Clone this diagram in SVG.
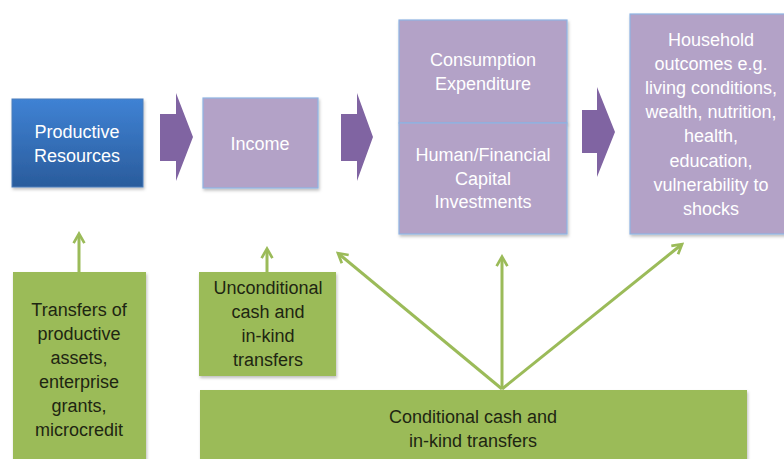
<svg xmlns="http://www.w3.org/2000/svg" width="784" height="459" viewBox="0 0 784 459">
<defs>
<linearGradient id="blueGrad" x1="0" y1="0" x2="0" y2="1">
<stop offset="0" stop-color="#3f82d4"/>
<stop offset="1" stop-color="#2a5c9c"/>
</linearGradient>
<filter id="sh" x="-10%" y="-10%" width="130%" height="130%">
<feDropShadow dx="1" dy="2" stdDeviation="1.5" flood-color="#000" flood-opacity="0.25"/>
</filter>
<marker id="ah" viewBox="0 0 10 10" refX="7" refY="5" markerWidth="4.5" markerHeight="4.5" orient="auto-start-reverse">
<path d="M1,1 L8,5 L1,9" fill="none" stroke="#9bbb59" stroke-width="2"/>
</marker>
<style>
.purple{fill:#b3a2c7;stroke:#8eb4e3;stroke-width:1.2}
.green{fill:#9bbb59;stroke:none}
.blk{fill:#8064a2}
.tw{font-family:"Liberation Sans",Arial,sans-serif;font-size:18px;fill:#ffffff;text-anchor:middle}
.td{font-family:"Liberation Sans",Arial,sans-serif;font-size:18px;fill:#1e2612;text-anchor:middle}
.conn{stroke:#9bbb59;stroke-width:3;fill:none;marker-end:url(#ah)}
</style>
</defs>
<rect width="784" height="459" fill="#ffffff"/>

<g id="productive-resources">
<rect x="12" y="99" width="131" height="88" fill="url(#blueGrad)" stroke="#4a7ebb" stroke-width="1" filter="url(#sh)"/>
<text class="tw" x="77" y="138">Productive</text>
<text class="tw" x="77" y="162">Resources</text>
</g>

<g id="income">
<rect class="purple" x="203" y="98" width="115" height="90" filter="url(#sh)"/>
<text class="tw" x="260" y="150">Income</text>
</g>

<g id="consumption">
<rect class="purple" x="399" y="20" width="168" height="103" filter="url(#sh)"/>
<text class="tw" x="483" y="66">Consumption</text>
<text class="tw" x="483" y="90">Expenditure</text>
</g>

<g id="investments">
<rect class="purple" x="399" y="123" width="168" height="111" filter="url(#sh)"/>
<text class="tw" x="483" y="161">Human/Financial</text>
<text class="tw" x="483" y="185">Capital</text>
<text class="tw" x="483" y="208">Investments</text>
</g>

<g id="household-outcomes">
<rect class="purple" x="630" y="14" width="160" height="220" filter="url(#sh)"/>
<text class="tw" x="711" y="46">Household</text>
<text class="tw" x="711" y="70">outcomes e.g.</text>
<text class="tw" x="711" y="94">living conditions,</text>
<text class="tw" x="711" y="118">wealth, nutrition,</text>
<text class="tw" x="711" y="142">health,</text>
<text class="tw" x="711" y="167">education,</text>
<text class="tw" x="711" y="191">vulnerability to</text>
<text class="tw" x="711" y="215">shocks</text>
</g>

<g id="transfers-productive">
<rect class="green" x="13" y="272" width="133" height="190" filter="url(#sh)"/>
<text class="td" x="79" y="316">Transfers of</text>
<text class="td" x="79" y="340">productive</text>
<text class="td" x="79" y="364">assets,</text>
<text class="td" x="79" y="388">enterprise</text>
<text class="td" x="79" y="412">grants,</text>
<text class="td" x="79" y="436">microcredit</text>
</g>

<g id="unconditional">
<rect class="green" x="199" y="272" width="137" height="104" filter="url(#sh)"/>
<text class="td" x="268" y="294">Unconditional</text>
<text class="td" x="268" y="318">cash  and</text>
<text class="td" x="268" y="342">in-kind</text>
<text class="td" x="268" y="366">transfers</text>
</g>

<g id="conditional">
<rect class="green" x="200" y="390" width="547" height="72" filter="url(#sh)"/>
<text class="td" x="473" y="423">Conditional cash  and</text>
<text class="td" x="473" y="447">in-kind transfers</text>
</g>

<g id="connectors">
<path class="blk" d="M160,114 L176,114 L176,93 L193,137 L176,181 L176,161 L160,161 Z"/>
<path class="blk" d="M341,114 L357,114 L357,93 L373,137 L357,181 L357,161 L341,161 Z"/>
<path class="blk" d="M582,110 L597,110 L597,87 L615,132 L597,177 L597,153 L582,153 Z"/>
<line class="conn" x1="79" y1="272" x2="79" y2="235"/>
<line class="conn" x1="267" y1="272" x2="267" y2="250"/>
<line class="conn" x1="502" y1="389" x2="339" y2="254"/>
<line class="conn" x1="502" y1="389" x2="502" y2="258"/>
<line class="conn" x1="502" y1="389" x2="681" y2="245"/>
</g>
</svg>
